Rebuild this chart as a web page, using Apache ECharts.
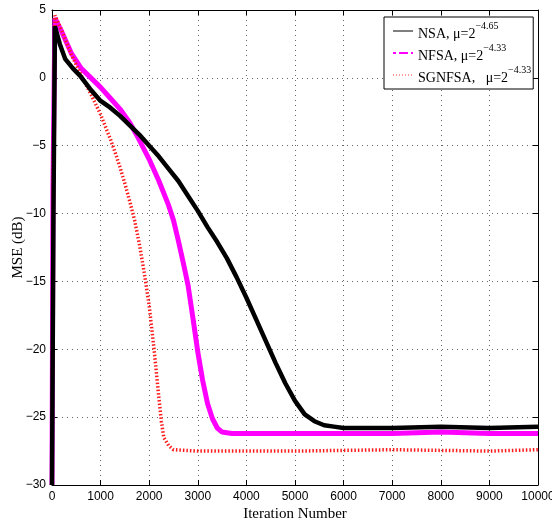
<!DOCTYPE html>
<html>
<head>
<meta charset="utf-8">
<script src="https://cdn.jsdelivr.net/npm/echarts@6.0.0/dist/echarts.min.js"></script>
<style>
  html, body { margin: 0; padding: 0; background: #fff; }
  #chart { width: 552px; height: 522px; }
</style>
</head>
<body>
<div id="chart"></div>
<script>
// values
const nsaIter = [0, 30, 60, 160, 270, 430, 580, 780, 1000, 1200, 1400, 1600, 1800, 2000, 2200, 2400, 2600, 2800, 3000, 3200, 3400, 3600, 3800, 4000, 4200, 4400, 4600, 4800, 5000, 5200, 5400, 5600, 5800, 6000, 7000, 8000, 9000, 10000];
const nsaMse = [-30, -10, 3.8, 2.5, 1.4, 0.7, 0.15, -0.8, -1.7, -2.2, -2.8, -3.5, -4.2, -5.0, -5.8, -6.7, -7.6, -8.7, -9.8, -11.0, -12.1, -13.3, -14.7, -16.2, -17.8, -19.4, -21.0, -22.5, -23.8, -24.8, -25.3, -25.6, -25.7, -25.8, -25.8, -25.7, -25.8, -25.7];

const nfsaIter = [0, 20, 60, 200, 400, 600, 800, 1000, 1200, 1400, 1600, 1800, 2000, 2200, 2400, 2500, 2600, 2700, 2800, 2900, 3000, 3100, 3200, 3300, 3400, 3500, 3700, 5000, 7000, 8000, 9000, 10000];
const nfsaMse = [-30, -8, 4.4, 3.4, 1.8, 0.7, 0.0, -0.7, -1.5, -2.3, -3.3, -4.6, -6.0, -7.6, -9.4, -10.5, -12.0, -13.6, -15.3, -17.7, -20.2, -22.3, -24.0, -25.1, -25.8, -26.1, -26.2, -26.2, -26.2, -26.1, -26.2, -26.2];

const sgnIter = [0, 20, 60, 200, 400, 600, 800, 1000, 1200, 1300, 1400, 1500, 1600, 1700, 1800, 1900, 2000, 2100, 2200, 2250, 2300, 2400, 2500, 3000, 5000, 7000, 9000, 10000];
const sgnMse = [-30, -8, 4.6, 3.5, 1.7, 0.2, -1.2, -2.7, -4.5, -5.5, -6.6, -7.8, -9.1, -10.5, -12.3, -14.4, -16.8, -20.0, -23.6, -25.3, -26.5, -27.1, -27.4, -27.5, -27.5, -27.4, -27.5, -27.4];

const names = ['NSA, μ=2', 'NFSA, μ=2', 'SGNFSA,   μ=2'];
const exps = ['−4.65', '−4.33', '−4.33'];

function pairs(xs, ys) {
    return xs.map(function (x, i) { return [x, ys[i]]; });
}

const chart = echarts.init(document.getElementById('chart'));

const gridDots = { show: true, lineStyle: { color: '#666', width: 1, type: [1, 4] } };
const tickIn = { show: true, inside: true, length: 5, lineStyle: { color: '#000' } };
const axLine = { show: true, onZero: false, lineStyle: { color: '#000', width: 1 } };
const tickFont = { fontFamily: 'Liberation Sans', fontSize: 12, color: '#000' };
const noSym = { opacity: 0 };

const option = {
    animation: false,
    backgroundColor: '#fff',
    grid: { left: 52, right: 14, top: 10, bottom: 37, containLabel: false, outerBoundsMode: 'none' },
    legend: {
        orient: 'vertical',
        left: 384,
        top: 17,
        padding: [4, 2, 4, 8],
        itemGap: 2,
        itemWidth: 20,
        itemHeight: 10,
        backgroundColor: '#fff',
        borderColor: '#000',
        borderWidth: 1,
        data: [
            { name: names[0], itemStyle: noSym, lineStyle: { color: '#000', width: 1, type: 'solid' } },
            { name: names[1], itemStyle: noSym, lineStyle: { color: '#ff00ff', width: 2, type: [3, 3, 9, 3] } },
            { name: names[2], itemStyle: noSym, lineStyle: { color: '#ff3030', width: 1, type: [1, 2] } }
        ],
        formatter: function (name) {
            const i = names.indexOf(name);
            return '{t|' + name + '}{s|' + exps[i] + '}';
        },
        textStyle: {
            rich: {
                t: { fontFamily: 'Liberation Serif', fontSize: 14, color: '#000', lineHeight: 20, verticalAlign: 'bottom' },
                s: { fontFamily: 'Liberation Serif', fontSize: 10, color: '#000', lineHeight: 12, verticalAlign: 'top' }
            }
        }
    },
    xAxis: [
        {
            type: 'value', min: 0, max: 10000, interval: 1000,
            name: 'Iteration Number', nameLocation: 'middle', nameGap: 22, nameMoveOverlap: false,
            nameTextStyle: { fontFamily: 'Liberation Serif', fontSize: 15, color: '#000' },
            axisLine: axLine, axisTick: tickIn, splitLine: gridDots,
            axisLabel: Object.assign({ margin: 6, formatter: function (v) { return String(v); } }, tickFont)
        },
        {
            type: 'value', min: 0, max: 10000, interval: 1000, position: 'top',
            axisLine: axLine, axisTick: tickIn, splitLine: { show: false },
            axisLabel: { show: false }
        }
    ],
    yAxis: [
        {
            type: 'value', min: -30, max: 5, interval: 5,
            name: 'MSE (dB)', nameLocation: 'middle', nameGap: 26, nameMoveOverlap: false,
            nameTextStyle: { fontFamily: 'Liberation Serif', fontSize: 15, color: '#000' },
            axisLine: axLine, axisTick: tickIn, splitLine: gridDots,
            axisLabel: Object.assign({
                margin: 6,
                formatter: function (v) { return String(v).replace('-', '−'); }
            }, tickFont)
        },
        {
            type: 'value', min: -30, max: 5, interval: 5, position: 'right',
            axisLine: axLine, axisTick: tickIn, splitLine: { show: false },
            axisLabel: { show: false }
        }
    ],
    series: [
        {
            name: names[1], type: 'line', symbol: 'none', z: 2,
            lineStyle: { color: '#ff00ff', width: 5 },
            data: pairs(nfsaIter, nfsaMse)
        },
        {
            name: names[2], type: 'line', symbol: 'none', z: 2,
            lineStyle: { color: '#ff1a1a', width: 3.5, type: [1.5, 2] },
            data: pairs(sgnIter, sgnMse)
        },
        {
            name: names[0], type: 'line', symbol: 'none', z: 3,
            lineStyle: { color: '#000', width: 4.5 },
            data: pairs(nsaIter, nsaMse)
        }
    ]
};

chart.setOption(option);
</script>
</body>
</html>
